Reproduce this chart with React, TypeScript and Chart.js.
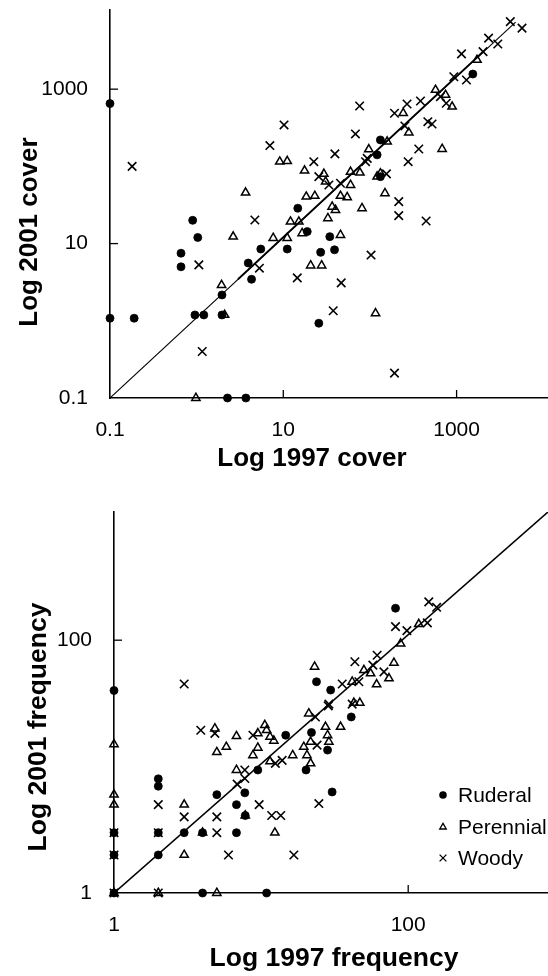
import React, { useEffect, useRef } from 'react';
import { Chart, registerables } from 'chart.js';

Chart.register(...registerables);

type P = [number, number];

// ---------- Top panel: cover (1997 vs 2001) ----------
const coverRuderal: P[] = [
  [0.1, 650], [0.9, 20], [1.03, 12], [0.66, 7.5], [0.66, 5.0], [5.5, 8.5], [3.94, 5.6],
  [4.3, 3.45], [1.96, 2.16], [0.1, 1.08], [0.19, 1.08], [0.955, 1.19], [1.21, 1.19],
  [1.96, 1.19], [2.27, 0.1], [3.7, 0.1], [14.7, 28.7], [11.1, 8.5], [18.9, 14.3],
  [34.4, 12.3], [27, 7.7], [39, 8.3], [25.7, 0.93], [1540, 1570], [132, 220], [121, 141],
  [132, 73.6],
];
const coverPerennial: P[] = [
  [3.67, 45.7], [2.64, 12.3], [7.65, 11.8], [1.94, 2.9], [2.1, 1.19], [0.98, 0.1],
  [36.6, 30], [40, 27.2], [81, 28.7], [12.1, 19.2], [15.1, 19.2], [32.7, 21.3], [11.1, 11.8],
  [16.5, 13.6], [45.7, 12.9], [20.7, 5.2], [27.7, 5.2], [116, 1.25], [1720, 2390], [571, 977],
  [745, 841], [888, 593], [242, 488], [281, 274], [158, 209], [97, 166], [681, 168],
  [9.1, 115], [11.1, 117], [17.6, 88], [29.4, 80], [30.8, 63.4], [59.7, 85], [76.6, 83],
  [59.7, 57.4], [121, 73.6], [132, 81], [149, 44.8], [18.4, 40.5], [23.1, 41.4],
  [45.7, 41.4], [54.6, 39.8],
];
const coverWoody: P[] = [
  [0.18, 100], [7, 186], [4.7, 20.2], [1.06, 5.3], [5.3, 4.8], [1.16, 0.4], [215, 35],
  [215, 23], [445, 19.6], [103, 7.1], [14.5, 3.6], [46.6, 3.1], [37.7, 1.35], [192, 0.21],
  [4170, 7500], [5690, 6170], [2340, 4580], [2990, 3850], [2020, 3060], [1140, 2860],
  [929, 1450], [1300, 1315], [651, 800], [760, 656], [383, 703], [268, 643], [192, 488],
  [76, 605], [10.2, 344], [68, 263], [253, 334], [466, 379], [521, 354], [93, 127],
  [366, 168], [276, 115], [39.4, 145], [22.5, 115], [25.7, 73.6], [33.6, 57.4],
  [45.7, 60.4], [89, 115], [155, 80],
];
const coverLineThin: P[] = [[0.1, 0.1], [4800, 7400]];
const coverLineThick: P[] = [[3, 3.45], [2000, 3015]];
const coverTicks = [0.1, 10, 1000];

// ---------- Bottom panel: frequency (1997 vs 2001) ----------
const freqRuderal: P[] = [
  [1, 40], [1, 3], [1, 2], [1, 1], [2, 8], [2, 7], [2, 3], [2, 2], [3, 3], [4, 3], [4, 1],
  [5, 6], [9.5, 9.4], [7.75, 6.2], [6.8, 5], [7.8, 4.1], [6.8, 3], [10.9, 1], [41, 24.7],
  [14.7, 17.7], [22, 18.6], [28.3, 13.5], [20.2, 9.4], [30.4, 6.3], [82, 179], [23.8, 46.9],
  [29.7, 40.3],
];
const freqPerennial: P[] = [
  [1, 15], [1, 6], [1, 5], [1, 1], [2, 1], [3, 5], [3, 2], [4, 3], [5, 1], [5, 13],
  [5.8, 14.3], [4.85, 20], [6.8, 17.4], [9.5, 18.3], [10.6, 21.3], [10.9, 19.4], [11.5, 17.2],
  [9.5, 14.1], [8.8, 12.3], [6.8, 9.4], [7.8, 4.1], [12.4, 3], [12.2, 16], [11.5, 11],
  [42.7, 31.9], [46.9, 31.9], [21.1, 26.3], [27.4, 20.6], [34.7, 20.6], [28.3, 17.7],
  [28.9, 15.7], [21.7, 15.7], [19.5, 14.3], [20.5, 12.3], [21.7, 10.6], [16.4, 12.3],
  [118, 134], [88.8, 94], [50, 58], [55.5, 54.6], [80, 66.2], [74, 49.9], [61, 44.7],
  [41.6, 46.9], [23.1, 61.6],
];
const freqWoody: P[] = [
  [1, 3], [1, 2], [1, 1], [2, 5], [2, 3], [2, 1], [3, 4], [3, 45], [5, 4], [5, 3], [6, 2],
  [3.89, 19.4], [4.85, 18.3], [8.8, 17.7], [7.75, 9.4], [7.75, 8.05], [6.87, 7.26],
  [9.7, 5], [11.8, 4.1], [28.9, 31.2], [23.4, 24.7], [24, 14.8], [13.9, 11.2], [12.5, 10.6],
  [24.7, 5.1], [13.6, 4.1], [16.7, 2], [138, 201], [156, 182], [82, 128], [98, 119],
  [135, 137], [61.5, 76], [57.5, 63.5], [43.4, 67.5], [68.4, 56.2], [35.6, 45], [46.2, 46.9],
  [28.6, 30.2], [41.6, 31.2],
];
const freqLine: P[] = [[1, 1], [892, 1033]];
const freqTicks = [1, 100];

const legendLabels = ['Ruderal', 'Perennial', 'Woody'];

const FONT = '"Liberation Sans", Arial, Helvetica, sans-serif';

const toXY = (arr: P[]) => arr.map(([x, y]) => ({ x, y }));

const innerTicks = {
  id: 'innerTicks',
  afterDraw(chart: any, _a: any, opts: any) {
    const { ctx } = chart;
    const xs = chart.scales.x;
    const ys = chart.scales.y;
    const len = opts.len || 7;
    ctx.save();
    ctx.strokeStyle = '#000';
    ctx.lineWidth = 1.3;
    xs.ticks.forEach((t: any) => {
      if (t.value <= xs.min) return;
      const px = xs.getPixelForValue(t.value);
      ctx.beginPath();
      ctx.moveTo(px, ys.bottom);
      ctx.lineTo(px, ys.bottom - len);
      ctx.stroke();
    });
    ys.ticks.forEach((t: any) => {
      if (t.value <= ys.min) return;
      const py = ys.getPixelForValue(t.value);
      ctx.beginPath();
      ctx.moveTo(xs.left, py);
      ctx.lineTo(xs.left + len, py);
      ctx.stroke();
    });
    ctx.restore();
  },
};

const axisTitles = {
  id: 'axisTitles',
  afterDraw(chart: any, _a: any, opts: any) {
    const { ctx } = chart;
    ctx.save();
    ctx.fillStyle = '#000';
    ctx.font = `bold ${opts.size}px ${FONT}`;
    ctx.textAlign = 'center';
    ctx.textBaseline = 'alphabetic';
    ctx.fillText(opts.xText, opts.xCx, opts.xBase);
    ctx.translate(opts.yBase, opts.yCy);
    ctx.rotate(-Math.PI / 2);
    ctx.fillText(opts.yText, 0, 0);
    ctx.restore();
  },
};

const customLegend = {
  id: 'customLegend',
  afterDraw(chart: any, _a: any, opts: any) {
    if (!opts.show) return;
    const { ctx } = chart;
    ctx.save();
    ctx.fillStyle = '#000';
    ctx.strokeStyle = '#000';
    ctx.lineWidth = 1.3;
    ctx.font = `${opts.size}px ${FONT}`;
    ctx.textAlign = 'left';
    ctx.textBaseline = 'alphabetic';
    const labels: string[] = opts.labels;
    labels.forEach((lab, i) => {
      const cy = opts.y0 + i * opts.dy;
      const mx = opts.mx;
      ctx.beginPath();
      if (i === 0) {
        ctx.arc(mx, cy, 3.8, 0, Math.PI * 2);
        ctx.fill();
      } else if (i === 1) {
        const r = 3.8;
        for (let k = 0; k < 3; k++) {
          const a = (k * 2 * Math.PI) / 3;
          const px = mx + Math.sin(a) * r;
          const py = cy + 0.6 - Math.cos(a) * r;
          if (k === 0) ctx.moveTo(px, py); else ctx.lineTo(px, py);
        }
        ctx.closePath();
        ctx.stroke();
      } else {
        const h = 3.4;
        ctx.moveTo(mx - h, cy - h); ctx.lineTo(mx + h, cy + h);
        ctx.moveTo(mx + h, cy - h); ctx.lineTo(mx - h, cy + h);
        ctx.stroke();
      }
      ctx.fillText(lab, opts.tx, cy + 7);
    });
    ctx.restore();
  },
};

function logScale(min: number, max: number, ticks: number[], horizontal: boolean, size: number, padding: number) {
  return {
    type: 'logarithmic' as const,
    min,
    max,
    afterBuildTicks: (s: any) => {
      s.ticks = ticks.map((v) => ({ value: v }));
    },
    afterFit: (s: any) => {
      if (horizontal) s.height = size; else s.width = size;
      s.paddingTop = 0;
      s.paddingBottom = 0;
      s.paddingLeft = 0;
      s.paddingRight = 0;
    },
    ticks: {
      autoSkip: false,
      maxRotation: 0,
      minRotation: 0,
      padding,
      color: '#000',
      font: { family: FONT, size: 21 },
      callback: (v: any) => String(v),
    },
    grid: { display: true, drawOnChartArea: false, drawTicks: false },
    border: { display: true, color: '#000', width: 1.6 },
    title: { display: false },
  };
}

function makeDatasets(r: P[], p: P[], w: P[], lines: { data: P[]; width: number }[]) {
  return [
    {
      label: 'Ruderal', data: toXY(r), pointStyle: 'circle', pointRadius: 4, pointBorderWidth: 0.8,
      pointBackgroundColor: '#000', pointBorderColor: '#000', clip: false, showLine: false,
    },
    {
      label: 'Perennial', data: toXY(p), pointStyle: 'triangle', pointRadius: 4.8, pointBorderWidth: 1.5,
      pointBackgroundColor: 'rgba(0,0,0,0)', pointBorderColor: '#000', clip: false, showLine: false,
    },
    {
      label: 'Woody', data: toXY(w), pointStyle: 'crossRot', pointRadius: 6, pointBorderWidth: 1.6,
      pointBackgroundColor: '#000', pointBorderColor: '#000', clip: false, showLine: false,
    },
    ...lines.map((l, i) => ({
      label: 'line' + i, data: toXY(l.data), showLine: true, borderColor: '#000', borderWidth: l.width,
      pointRadius: 0, fill: false,
    })),
  ];
}

function useChart(ref: React.RefObject<HTMLCanvasElement | null>, cfg: () => any) {
  useEffect(() => {
    if (!ref.current) return;
    const ch = new Chart(ref.current, cfg());
    return () => ch.destroy();
  }, []);
}

export default function App() {
  const topRef = useRef<HTMLCanvasElement>(null);
  const botRef = useRef<HTMLCanvasElement>(null);

  useChart(topRef, () => ({
    type: 'scatter',
    data: {
      datasets: makeDatasets(coverRuderal, coverPerennial, coverWoody, [
        { data: coverLineThin, width: 1.1 },
        { data: coverLineThick, width: 1.8 },
      ]),
    },
    options: {
      animation: false,
      responsive: false,
      devicePixelRatio: 1,
      events: [],
      layout: { autoPadding: false, padding: { top: 10, left: 0, right: 0, bottom: 0 } },
      plugins: {
        legend: { display: false },
        tooltip: { enabled: false },
        innerTicks: { len: 8 },
        axisTitles: {
          size: 26, xText: 'Log 1997 cover', xCx: 312, xBase: 466,
          yText: 'Log 2001 cover', yCy: 232, yBase: 37,
        },
        customLegend: { show: false },
      },
      scales: {
        x: logScale(0.1, 11350, coverTicks, true, 90, 20),
        y: logScale(0.1, 10600, coverTicks, false, 110, 22),
      },
    },
    plugins: [innerTicks, axisTitles, customLegend],
  }));

  useChart(botRef, () => ({
    type: 'scatter',
    data: {
      datasets: makeDatasets(freqRuderal, freqPerennial, freqWoody, [{ data: freqLine, width: 1.6 }]),
    },
    options: {
      animation: false,
      responsive: false,
      devicePixelRatio: 1,
      events: [],
      layout: { autoPadding: false, padding: { top: 24, left: 0, right: 0, bottom: 0 } },
      plugins: {
        legend: { display: false },
        tooltip: { enabled: false },
        innerTicks: { len: 8 },
        axisTitles: {
          size: 26.5, xText: 'Log 1997 frequency', xCx: 334, xBase: 478,
          yText: 'Log 2001 frequency', yCy: 239, yBase: 46,
        },
        customLegend: {
          show: true, labels: legendLabels, size: 21, mx: 443, tx: 458, y0: 307, dy: 31.5,
        },
      },
      scales: {
        x: logScale(1, 892, freqTicks, true, 83, 20),
        y: logScale(1, 1033, freqTicks, false, 114, 22),
      },
    },
    plugins: [innerTicks, axisTitles, customLegend],
  }));

  return (
    <div style={{ position: 'absolute', left: 0, top: 0, width: 548, height: 976, background: '#fff', overflow: 'hidden' }}>
      <canvas ref={topRef} width={548} height={488} style={{ position: 'absolute', left: 0, top: 0, width: 548, height: 488 }} />
      <canvas ref={botRef} width={548} height={488} style={{ position: 'absolute', left: 0, top: 488, width: 548, height: 488 }} />
    </div>
  );
}
